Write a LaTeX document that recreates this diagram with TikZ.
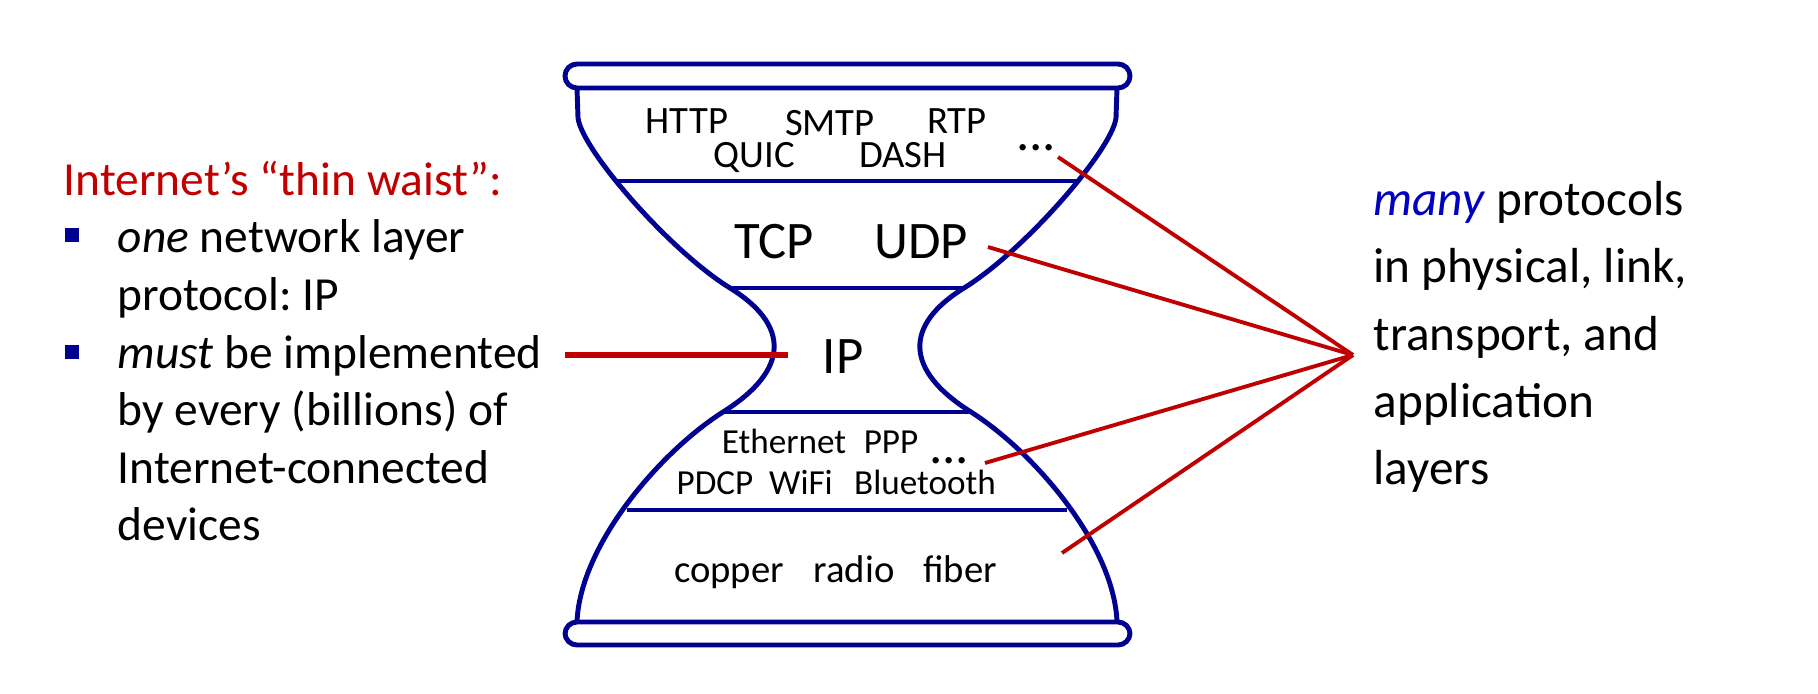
\documentclass[tikz,border=0pt]{standalone}
\usepackage{fontspec}
\setmainfont{Carlito}
\frenchspacing
\definecolor{hgblue}{RGB}{0,0,145}
\definecolor{waistred}{RGB}{192,0,0}
\definecolor{manyblue}{RGB}{0,0,190}
\begin{document}
\begin{tikzpicture}[x=0.01cm,y=-0.01cm,
    glass/.style={draw=hgblue,line width=1.4pt},
    redline/.style={draw=waistred,line width=1.1pt},
    small/.style={anchor=base,inner sep=0pt,font=\fontsize{11}{13}\selectfont},
    tiny/.style={anchor=base,inner sep=0pt,font=\fontsize{10}{12}\selectfont},
    big/.style={anchor=base,inner sep=0pt,font=\fontsize{15}{18}\selectfont},
    lefttext/.style={anchor=base west,inner sep=0pt,font=\fontsize{13.5}{16}\selectfont},
    righttext/.style={anchor=base west,inner sep=0pt,font=\fontsize{14}{17}\selectfont},
    bullet/.style={fill=hgblue,minimum size=4pt,inner sep=0pt}]
  \useasboundingbox (0,0) rectangle (1818,694);

  % hourglass
  \draw[glass,rounded corners=3.4pt] (565,64) rectangle (1130,88);
  \draw[glass,rounded corners=3.4pt] (565,622) rectangle (1130,645);
  \draw[glass] (577,88) -- (578,118) .. controls (582,150) and (670,251) .. (730,288)
    .. controls (790,325) and (790,370) .. (723,412)
    .. controls (660,452) and (580,545) .. (577,622);
  \draw[glass] (1117,88) -- (1116,118) .. controls (1112,150) and (1024,251) .. (964,288)
    .. controls (904,325) and (904,370) .. (971,412)
    .. controls (1034,452) and (1114,545) .. (1117,622);
  \draw[glass] (617,181) -- (1077,181);
  \draw[glass] (730,288) -- (964,288);
  \draw[glass] (723,412) -- (971,412);
  \draw[glass] (627,510) -- (1067,510);

  % layers
  \node[small] (http) at (687,133) {HTTP};
  \node[small] (smtp) at (830,135) {SMTP};
  \node[small] (rtp) at (957,133) {RTP};
  \node[small] (quic) at (754,167) {QUIC};
  \node[small] (dash) at (903,167) {DASH};
  \node[big] (appdots) at (1036,150) {...};
  \node[big] (tcp) at (774,258) {TCP};
  \node[big] (udp) at (921,258) {UDP};
  \node[big] (ip) at (843,373) {IP};
  \node[tiny] (eth) at (784,453) {Ethernet};
  \node[tiny] (ppp) at (891,453) {PPP};
  \node[big] (linkdots) at (949,463) {...};
  \node[tiny] (pdcp) at (715,494) {PDCP};
  \node[tiny] (wifi) at (801,494) {WiFi};
  \node[tiny] (bt) at (925,494) {Bluetooth};
  \node[small] (copper) at (729,582) {copper};
  \node[small] (radio) at (854,582) {radio};
  \node[small] (fiber) at (960,582) {fiber};

  % left text
  \node[lefttext,text=waistred] (title) at (63,195) {Internet’s “thin waist”:};
  \node[bullet] (b1) at (72,235) {};
  \node[lefttext] (one1) at (117,252) {\textit{one} network layer};
  \node[lefttext] (one2) at (117,310) {protocol: IP};
  \node[bullet] (b2) at (72,352) {};
  \node[lefttext] (must1) at (117,368) {\textit{must} be implemented};
  \node[lefttext] (must2) at (117,425) {by every (billions) of};
  \node[lefttext] (must3) at (117,483) {Internet-connected};
  \node[lefttext] (must4) at (117,540) {devices};

  % right text
  \node[righttext] (many1) at (1373,215) {\textcolor{manyblue}{\textit{many}} protocols};
  \node[righttext] (many2) at (1373,282) {in physical, link,};
  \node[righttext] (many3) at (1373,350) {transport, and};
  \node[righttext] (many4) at (1373,417) {application};
  \node[righttext] (many5) at (1373,484) {layers};

  % pointers
  \coordinate (hub) at (1353,355);
  \coordinate (append) at (1058,157);
  \coordinate (udpend) at (988,247);
  \coordinate (linkend) at (985,463);
  \coordinate (physend) at (1062,553);
  \coordinate (mustend) at (565,355);
  \coordinate (ipend) at (788,355);
  \draw[redline] (append) -- (hub);
  \draw[redline] (udpend) -- (hub);
  \draw[redline] (linkend) -- (hub);
  \draw[redline] (physend) -- (hub);
  \draw[redline,line width=1.7pt] (mustend) -- (ipend);
\end{tikzpicture}
\end{document}
